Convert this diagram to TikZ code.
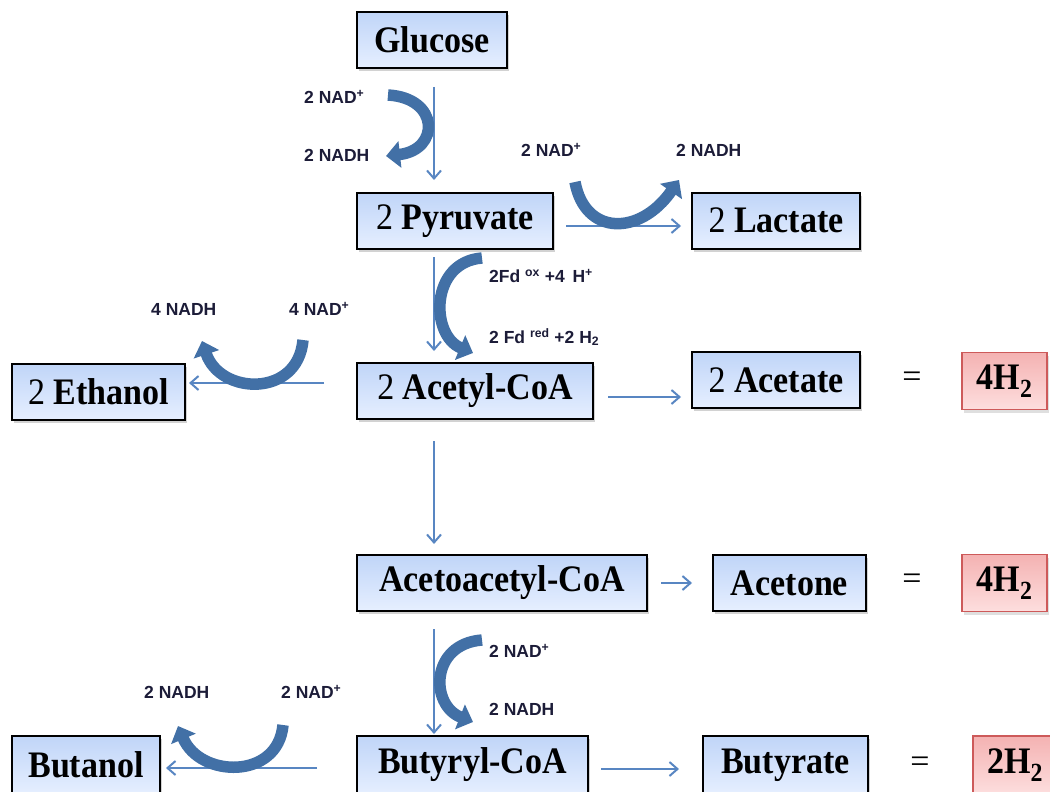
\documentclass[tikz,border=0pt]{standalone}
\usepackage{graphicx}
\usepackage{fontspec}
\setmainfont{Liberation Serif}
\newfontfamily\labfont{Liberation Sans}
\usetikzlibrary{arrows.meta,shadows}

\definecolor{thinblue}{RGB}{88,134,194}
\definecolor{bandblue}{RGB}{66,112,166}
\definecolor{boxtop}{RGB}{192,213,248}
\definecolor{boxbot}{RGB}{230,239,255}
\definecolor{htop}{RGB}{244,178,178}
\definecolor{hbot}{RGB}{253,222,222}
\definecolor{hborder}{RGB}{205,90,90}
\definecolor{labtext}{RGB}{28,28,56}

% box captions are set slightly taller than the plain font
\newcommand\tall[1]{\raisebox{-2.5pt}{\scalebox{1}[1.1]{#1}}}

\tikzset{
  met/.style={draw=black, line width=2pt, top color=boxtop, bottom color=boxbot,
    drop shadow={shadow xshift=2pt, shadow yshift=-3pt, fill=black!35},
    minimum height=56pt, inner sep=0pt, text=black,
    font=\fontsize{34}{34}\selectfont\bfseries},
  hbox/.style={draw=hborder, line width=1.3pt, top color=htop, bottom color=hbot,
    drop shadow={shadow xshift=2pt, shadow yshift=-3pt, fill=black!25},
    minimum width=85pt, minimum height=57pt, inner sep=0pt, text=black,
    font=\fontsize{34}{34}\selectfont\bfseries},
  eqsign/.style={font=\fontsize{34}{34}\selectfont, inner sep=0pt},
  flow/.style={draw=thinblue, line width=2pt, -{Straight Barb[length=8pt,width=14pt]}},
  band/.style={draw=bandblue, line width=11.5pt, -{Triangle[length=14pt,width=26pt]}},
  lab/.style={font=\labfont\bfseries\fontsize{17.5}{17.5}\selectfont, text=labtext, inner sep=0pt, anchor=west},
}

\begin{document}
\begin{tikzpicture}[x=1pt,y=-1pt]
\useasboundingbox (0,0) rectangle (1050,792);
\clip (0,0) rectangle (1050,792);

% metabolites
\node[met, minimum width=150pt] (glucose) at (432,40) {\tall{Glucose}};
\node[met, minimum width=196pt] (pyruvate) at (455,221) {\tall{{\mdseries 2} Pyruvate}};
\node[met, minimum width=168pt] (lactate) at (776,220.5) {\tall{{\mdseries 2} Lactate}};
\node[met, minimum width=236pt] (acetyl) at (475,391) {\tall{{\mdseries 2} Acetyl-CoA}};
\node[met, minimum width=173pt] (ethanol) at (98.5,391.5) {\tall{{\mdseries 2} Ethanol}};
\node[met, minimum width=168pt] (acetate) at (776,380) {\tall{{\mdseries 2} Acetate}};
\node[met, minimum width=290pt] (acetoacetyl) at (502,583) {\tall{Acetoacetyl-CoA}};
\node[met, minimum width=153pt] (acetone) at (789.5,583) {\tall{Acetone}};
\node[met, minimum width=231pt, minimum height=58pt] (butyryl) at (472.5,765) {\tall{Butyryl-CoA}};
\node[met, minimum width=165pt, minimum height=58pt] (butyrate) at (785.5,765) {\tall{Butyrate}};
\node[met, minimum width=148pt, minimum height=58pt] (butanol) at (86,765) {\tall{Butanol}};

% hydrogen yields
\node[eqsign] (eq1) at (912,380) {=};
\node[hbox] (h2a) at (1004.5,381) {\tall{4H\textsubscript{2}}};
\node[eqsign] (eq2) at (912,582) {=};
\node[hbox] (h2b) at (1004.5,583) {\tall{4H\textsubscript{2}}};
\node[eqsign] (eq3) at (920,765) {=};
\node[hbox, minimum width=84pt, minimum height=58pt] (h2c) at (1015,765) {\tall{2H\textsubscript{2}}};

% main descending pathway
\coordinate (spine) at (434,0);
\draw[flow] ([yshift=-18pt]glucose.south -| spine) -- ([yshift=12pt]pyruvate.north -| spine);
\draw[flow] ([yshift=-7pt]pyruvate.south -| spine) -- ([yshift=11pt]acetyl.north -| spine);
\draw[flow] ([yshift=-21pt]acetyl.south -| spine) -- ([yshift=10pt]acetoacetyl.north -| spine);
\draw[flow] ([yshift=-17pt]acetoacetyl.south -| spine) -- ([yshift=1pt]butyryl.north -| spine);

% side branches
\draw[flow] ([xshift=12pt,yshift=-5pt]pyruvate.east) -- ([xshift=-10pt,yshift=-5pt]pyruvate.east -| lactate.west);
\draw[flow] ([xshift=14pt,yshift=-6pt]acetyl.east) -- ([xshift=-10pt,yshift=-6pt]acetyl.east -| acetate.west);
\draw[flow] ([xshift=13pt]acetoacetyl.east) -- ([xshift=-20pt]acetoacetyl.east -| acetone.west);
\draw[flow] ([xshift=12pt,yshift=-4pt]butyryl.east) -- ([xshift=-23pt,yshift=-4pt]butyryl.east -| butyrate.west);
\draw[flow] ([xshift=-32pt,yshift=8pt]acetyl.west) -- ([xshift=3pt,yshift=8pt]acetyl.west -| ethanol.east);
\draw[flow] ([xshift=-39pt,yshift=-3pt]butyryl.west) -- ([xshift=5pt,yshift=-3pt]butyryl.west -| butanol.east);

% cofactor turnover
\draw[band] (388,95) .. controls (440,98) and (440,150) .. (386,156);
\draw[band] (575,182) .. controls (585,236) and (640,236) .. (679,180);
\draw[band] (482,258) .. controls (430,262) and (430,335) .. (473,353);
\draw[band] (303,340) .. controls (298,398) and (220,395) .. (202,341);
\draw[band] (482,640) .. controls (430,644) and (430,705) .. (473,722);
\draw[band] (283,725) .. controls (278,780) and (200,778) .. (178,726);

% cofactor labels
\node[lab] (g1) at (304,97) {2 NAD\textsuperscript{+}};
\node[lab] (g2) at (304,155) {2 NADH};
\node[lab] (l1) at (521,150) {2 NAD\textsuperscript{+}};
\node[lab] (l2) at (676,150) {2 NADH};
\node[lab] (f1) at (489,276) {2Fd \textsuperscript{ox} +4\, H\textsuperscript{+}};
\node[lab] (f2) at (489,337) {2 Fd \textsuperscript{red} +2 H\textsubscript{2}};
\node[lab] (e1) at (151,309) {4 NADH};
\node[lab] (e2) at (289,309) {4 NAD\textsuperscript{+}};
\node[lab] (b1) at (489,651) {2 NAD\textsuperscript{+}};
\node[lab] (b2) at (489,709) {2 NADH};
\node[lab] (n1) at (144,692) {2 NADH};
\node[lab] (n2) at (281,692) {2 NAD\textsuperscript{+}};
\end{tikzpicture}
\end{document}
